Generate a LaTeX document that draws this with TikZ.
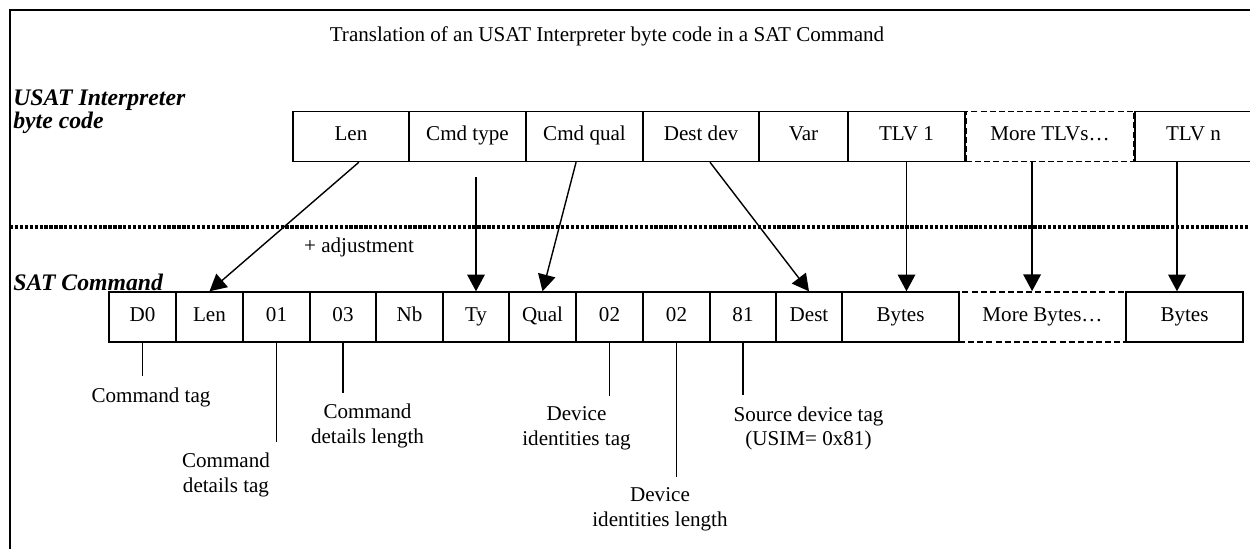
\documentclass[tikz,border=0pt]{standalone}
\usepackage{fontspec}
\setmainfont{Liberation Serif}
\usetikzlibrary{arrows.meta}

\begin{document}
\begin{tikzpicture}[x=0.02cm,y=-0.02cm,
  every node/.style={font=\fontsize{12}{14}\selectfont, inner sep=0pt},
  cell/.style={draw, line width=0.8pt, minimum height=1cm, minimum width=1.333cm, text height=0.68em, text depth=0.2em},
  wide/.style={cell, minimum width=2.34cm},
  more/.style={wide, line width=1pt, dash pattern=on 3.4pt off 1.8pt},
  link/.style={-{Triangle[width=10pt,length=9.5pt]}, line width=0.8pt},
  tick/.style={line width=0.8pt, shorten >=6.3pt},
  note/.style={align=center},
  hdr/.style={font=\fontsize{13.5}{13}\selectfont\bfseries\itshape, align=left, anchor=west}]
\useasboundingbox (0,0) rectangle (1250,548);
\draw [line width=1.5pt] (1262,10) -| (10,560);
\node (title) at (607,36) {Translation of an USAT Interpreter byte code in a SAT Command};
\node [hdr] (bytecode) at (13,112) {USAT Interpreter\\byte code};
\node [hdr] (satcmd) at (13,282) {SAT Command};
\draw [line width=1.9pt, dash pattern=on 1.9pt off 0.9pt] (10,227) -- (1262,227);
\node (adjust) at (359,247) {+ adjustment};
\node [wide, minimum width=2.32cm] (len) at (351,136.5) {Len};
\node [wide] (cmdtype) at (467.5,136.5) {Cmd type};
\node [wide] (cmdqual) at (584.5,136.5) {Cmd qual};
\node [wide, minimum width=2.32cm] (destdev) at (701,136.5) {Dest dev};
\node [cell, minimum width=1.78cm] (var) at (803.5,136.5) {Var};
\node [wide] (tlvone) at (906.5,136.5) {TLV 1};
\node [more, minimum width=3.36cm] (moretlv) at (1050,136.5) {More TLVs\dots};
\node [wide] (tlvn) at (1193.5,136.5) {TLV n};
\node [cell] (d0) at (142.5,317) {D0};
\node [cell] (blen) at (209.5,317) {Len};
\node [cell] (b01) at (276.5,317) {01};
\node [cell] (b03) at (343,317) {03};
\node [cell] (nb) at (409.5,317) {Nb};
\node [cell] (ty) at (476,317) {Ty};
\node [cell] (qual) at (542.5,317) {Qual};
\node [cell] (b02a) at (609.5,317) {02};
\node [cell] (b02b) at (676.5,317) {02};
\node [cell] (b81) at (743,317) {81};
\node [cell] (dest) at (809,317) {Dest};
\node [wide] (bytesa) at (900.5,317) {Bytes};
\node [more, minimum width=3.34cm] (morebytes) at (1042.5,317) {More Bytes\dots};
\node [wide] (bytesb) at (1184.5,317) {Bytes};
\coordinate (typestub) at (476,177);
\draw [link] ([xshift=4.5pt]len.south) -- (blen.north);
\draw [link] (typestub) -- (ty.north);
\draw [link] ([xshift=-4.8pt]cmdqual.south) -- (qual.north);
\draw [link] ([xshift=5.1pt]destdev.south) -- (dest.north);
\draw [link] (tlvone.south) -- (tlvone.south |- bytesa.north);
\draw [link] ([xshift=-10.2pt]moretlv.south) -- ([xshift=-10.2pt]moretlv.south |- morebytes.north);
\draw [link] ([xshift=-9.4pt]tlvn.south) -- ([xshift=-9.4pt]tlvn.south |- bytesb.north);
\node (cmdtag) at (151,397) {Command tag};
\node [note] (cdtag) at (226,475) {Command\\details tag};
\node [note] (cdlen) at (367.5,426) {Command\\details length};
\node [note] (ditag) at (576.5,428.5) {Device\\identities tag};
\node [note] (dilen) at (660,509.5) {Device\\identities length};
\node [note] (srctag) at (808.5,428.5) {Source device tag\\(USIM= 0x81)};
\draw [tick] (d0.south) -- (d0.south |- cmdtag.north);
\draw [tick] (b01.south) -- (b01.south |- cdtag.north);
\draw [tick] (b03.south) -- (b03.south |- cdlen.north);
\draw [tick] (b02a.south) -- (b02a.south |- ditag.north);
\draw [tick] (b02b.south) -- (b02b.south |- dilen.north);
\draw [tick] (b81.south) -- (b81.south |- srctag.north);
\end{tikzpicture}
\end{document}
